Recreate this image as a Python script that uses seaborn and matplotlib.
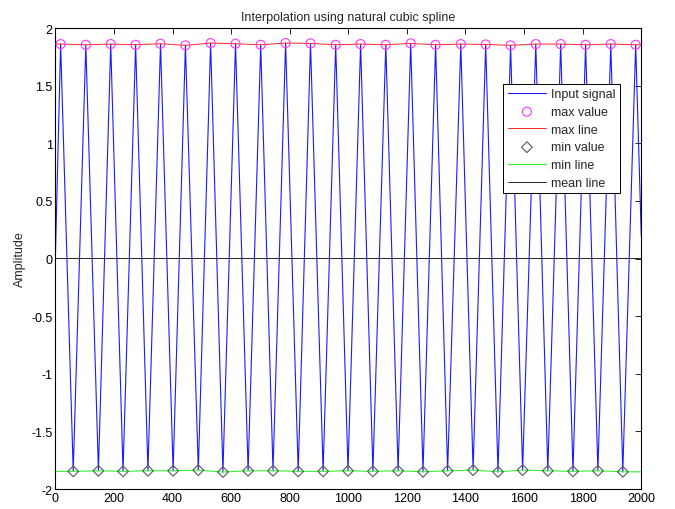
import matplotlib
matplotlib.use("Agg")
import matplotlib.pyplot as plt
import seaborn as sns

# Local maxima of the sampled signal (sample index, amplitude)
max_x = [18, 104, 189, 274, 359, 444, 530, 615, 701, 786, 871, 957,
         1042, 1128, 1213, 1298, 1384, 1469, 1554, 1640, 1725, 1810, 1896, 1981]
max_y = [1.861, 1.855, 1.861, 1.855, 1.864, 1.850, 1.870, 1.864, 1.855, 1.870, 1.867, 1.855,
         1.861, 1.855, 1.867, 1.855, 1.861, 1.858, 1.850, 1.861, 1.861, 1.855, 1.861, 1.855]

# Local minima of the sampled signal
min_x = [61, 147, 231, 316, 402, 488, 572, 658, 743, 829, 914, 999,
         1084, 1170, 1255, 1339, 1426, 1511, 1595, 1681, 1767, 1852, 1937]
min_y = [-1.846, -1.841, -1.846, -1.841, -1.841, -1.835, -1.852, -1.841, -1.841, -1.846, -1.846, -1.841,
         -1.846, -1.841, -1.850, -1.841, -1.835, -1.850, -1.835, -1.841, -1.846, -1.841, -1.850]

# Signal values at the two ends of the record
start_value = 0.0
end_value = 0.2

# Mean of the two envelopes
mean_x = [0, 2000]
mean_y = [0.005, 0.005]

x_ticks = list(range(0, 2001, 200))
y_ticks = [-2, -1.5, -1, -0.5, 0, 0.5, 1, 1.5, 2]
y_tick_labels = ["-2", "-1.5", "-1", "-0.5", "0", "0.5", "1", "1.5", "2"]
legend_labels = ["Input signal", "max value", "max line", "min value", "min line", "mean line"]

# Input signal: vertices ordered by sample index
pts = sorted(list(zip(max_x, max_y)) + list(zip(min_x, min_y)))
sig_x = [0] + [p[0] for p in pts] + [2000]
sig_y = [start_value] + [p[1] for p in pts] + [end_value]

# Envelopes spanning the whole record
upper_x = [0] + max_x + [2000]
upper_y = [max_y[0]] + max_y + [max_y[-1]]
lower_x = [0] + min_x + [2000]
lower_y = [min_y[0]] + min_y + [min_y[-1]]

sns.set_style("white")
plt.rcParams["font.family"] = ["Liberation Sans", "DejaVu Sans"]
plt.rcParams["font.size"] = 9

fig = plt.figure(figsize=(6.75, 5.1), dpi=100)
ax = fig.add_axes([0.082, 0.039, 0.868, 0.904])


def draw_line(x, y, color, lw, alpha=1.0):
    n = len(ax.lines)
    sns.lineplot(x=x, y=y, ax=ax, color=color, linewidth=lw, alpha=alpha,
                 estimator=None, sort=False, legend=False)
    return ax.lines[n]


def draw_points(x, y, marker, size, edge):
    n = len(ax.collections)
    sns.scatterplot(x=x, y=y, ax=ax, marker=marker, s=size, facecolor="none",
                    edgecolor=edge, linewidth=0.8, legend=False, zorder=4)
    return ax.collections[n]


h_sig = draw_line(sig_x, sig_y, (0.1, 0.1, 1.0), 0.8)
h_max = draw_points(max_x, max_y, "o", 42, (1, 0.2, 1))
h_up = draw_line(upper_x, upper_y, (1, 0.15, 0.15), 0.7)
h_min = draw_points(min_x, min_y, "D", 30, (0.35, 0.35, 0.35))
h_low = draw_line(lower_x, lower_y, (0.2, 0.95, 0.2), 0.8)
h_mean = draw_line(mean_x, mean_y, (0.15, 0.15, 0.15), 0.7)

ax.set_xlim(0, 2000)
ax.set_ylim(-2, 2)
ax.set_xticks(x_ticks)
ax.set_yticks(y_ticks)
ax.set_yticklabels(y_tick_labels)
ax.tick_params(direction="in", length=4, width=0.6, top=True, right=True,
               labelsize=9, pad=2, colors="black")
for sp in ax.spines.values():
    sp.set_color("black")
    sp.set_linewidth(0.8)

ax.set_title("Interpolation using natural cubic spline", fontsize=9, pad=6)
ax.set_ylabel("Amplitude", fontsize=9, labelpad=4)

leg = ax.legend([h_sig, h_max, h_up, h_min, h_low, h_mean], legend_labels,
                loc="upper right", bbox_to_anchor=(0.964, 0.879), fontsize=9,
                frameon=True, fancybox=False, framealpha=1, edgecolor="black",
                handlelength=3.1, handletextpad=0.4, labelspacing=0.46,
                borderpad=0.35, borderaxespad=0)
leg.get_frame().set_linewidth(0.7)

fig.savefig("out.png", dpi=100)
